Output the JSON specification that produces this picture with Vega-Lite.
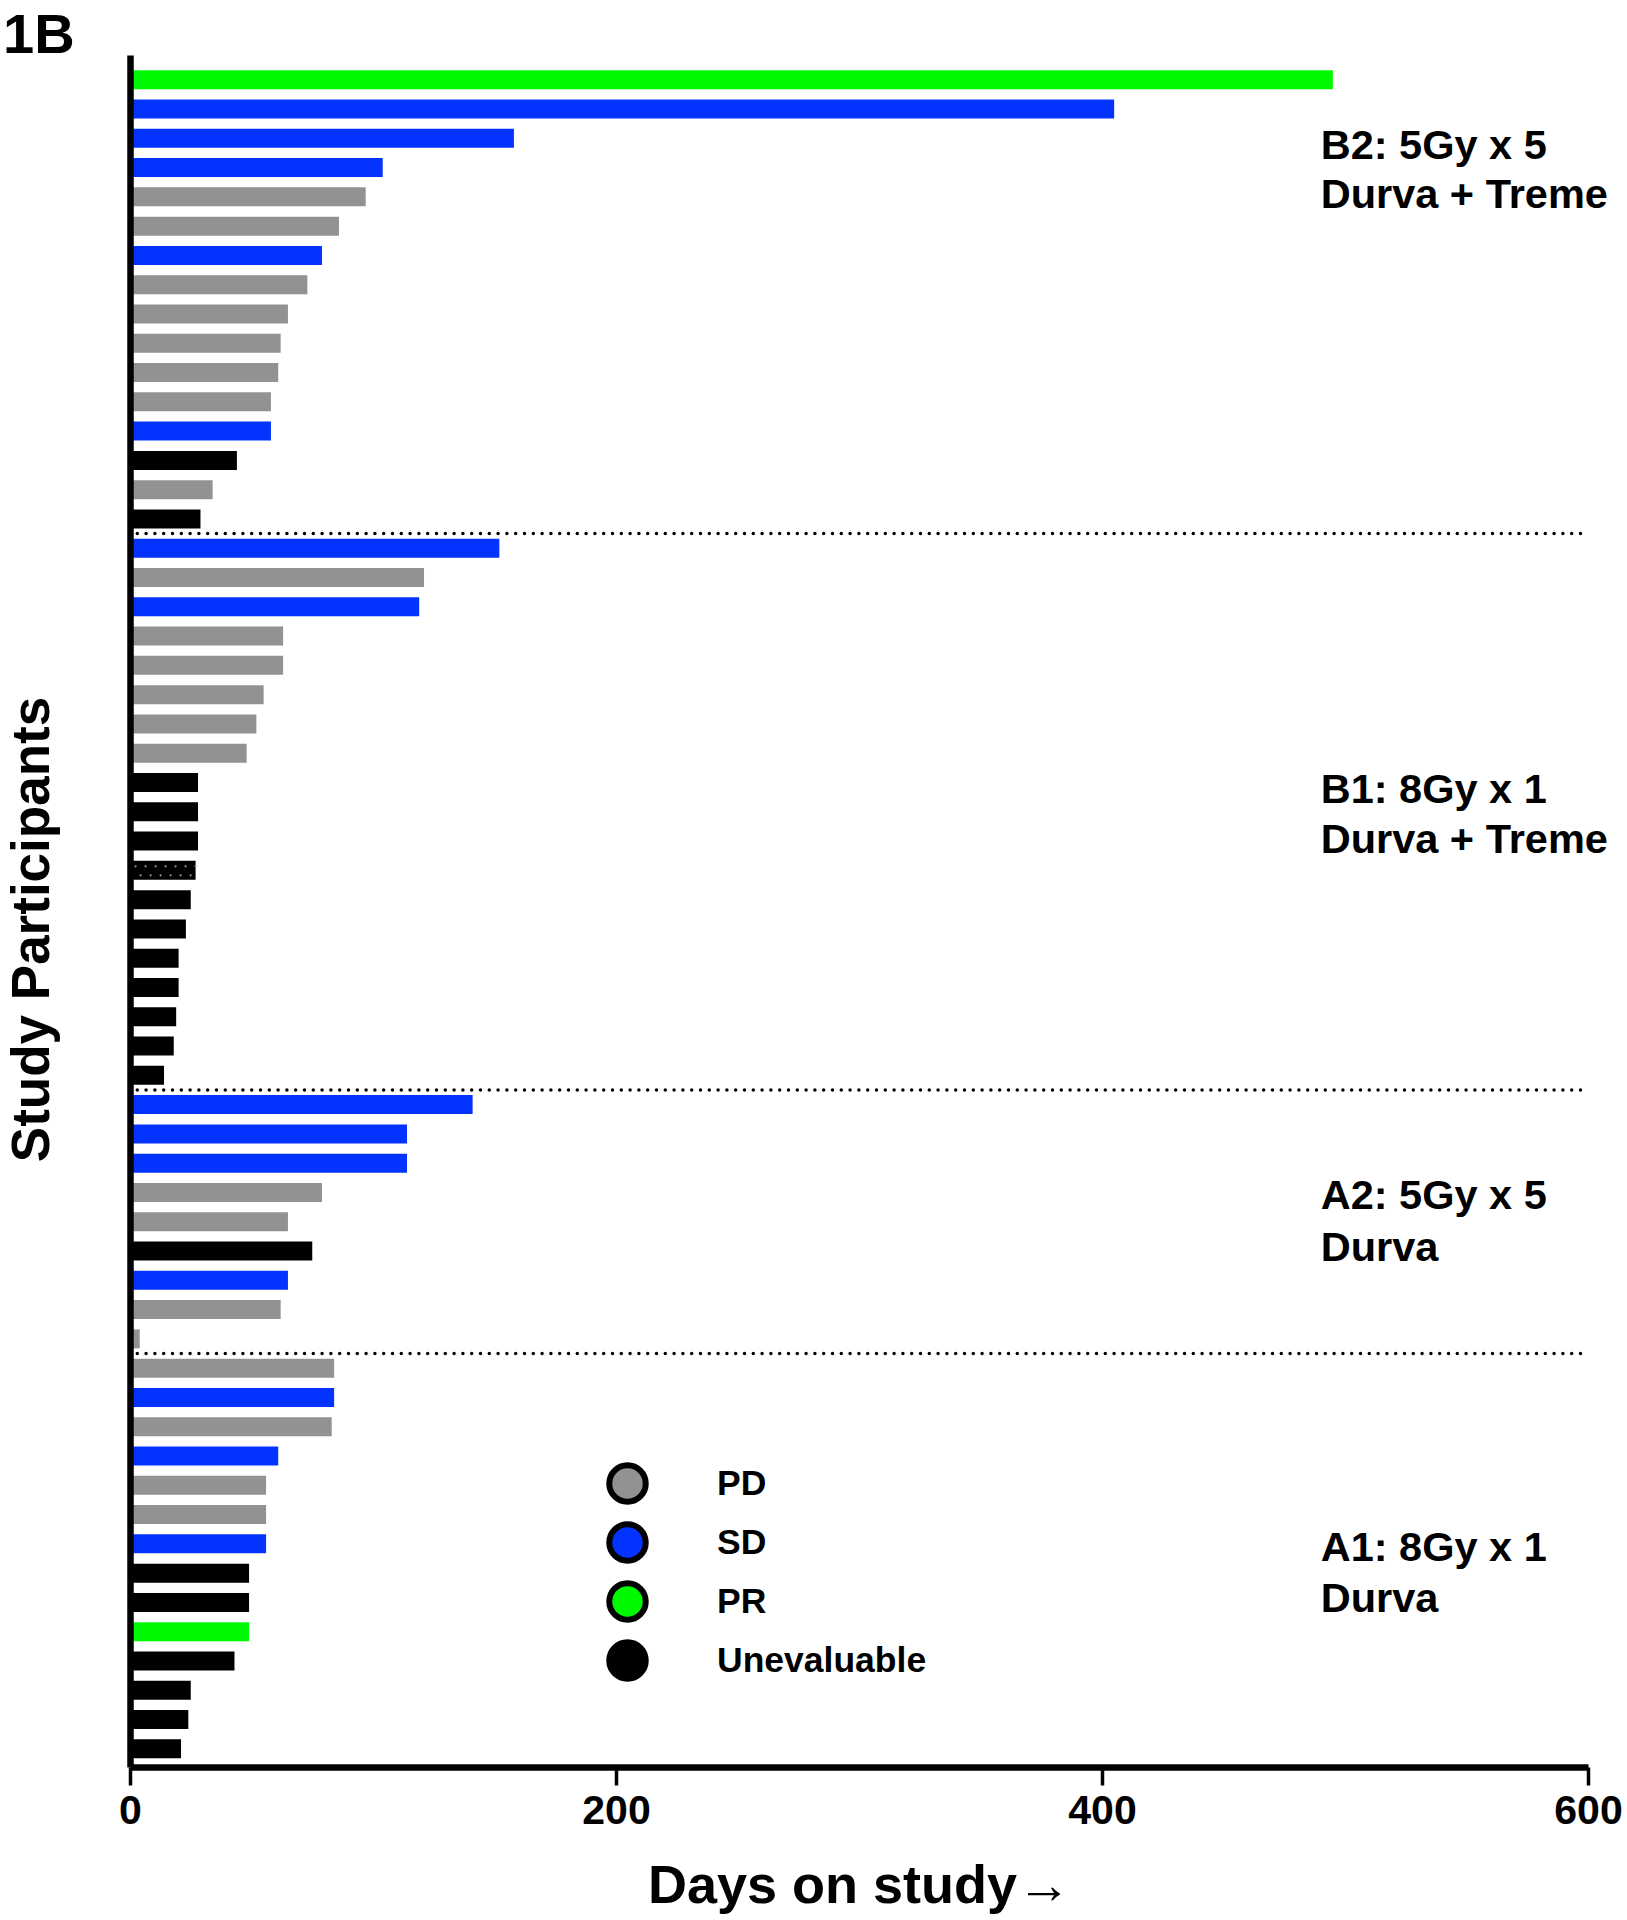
{
  "$schema": "https://vega.github.io/schema/vega-lite/v6.json",
  "width": 1458,
  "height": 1712,
  "autosize": {"type": "none"},
  "padding": {"left": 130, "top": 55, "right": 39, "bottom": 153},
  "background": "white",
  "config": {"view": {"stroke": null}, "font": "Liberation Sans"},
  "title": {"text": "1B", "fontSize": 56, "fontWeight": "bold", "color": "black", "anchor": "start", "frame": "group", "dx": -127, "offset": -54, "baseline": "alphabetic"},
  "datasets": {
    "bars": [
      {"idx": 1, "days": 495, "status": "PR", "group": "B2"},
      {"idx": 2, "days": 405, "status": "SD", "group": "B2"},
      {"idx": 3, "days": 158, "status": "SD", "group": "B2"},
      {"idx": 4, "days": 104, "status": "SD", "group": "B2"},
      {"idx": 5, "days": 97, "status": "PD", "group": "B2"},
      {"idx": 6, "days": 86, "status": "PD", "group": "B2"},
      {"idx": 7, "days": 79, "status": "SD", "group": "B2"},
      {"idx": 8, "days": 73, "status": "PD", "group": "B2"},
      {"idx": 9, "days": 65, "status": "PD", "group": "B2"},
      {"idx": 10, "days": 62, "status": "PD", "group": "B2"},
      {"idx": 11, "days": 61, "status": "PD", "group": "B2"},
      {"idx": 12, "days": 58, "status": "PD", "group": "B2"},
      {"idx": 13, "days": 58, "status": "SD", "group": "B2"},
      {"idx": 14, "days": 44, "status": "Unevaluable", "group": "B2"},
      {"idx": 15, "days": 34, "status": "PD", "group": "B2"},
      {"idx": 16, "days": 29, "status": "Unevaluable", "group": "B2"},
      {"idx": 17, "days": 152, "status": "SD", "group": "B1"},
      {"idx": 18, "days": 121, "status": "PD", "group": "B1"},
      {"idx": 19, "days": 119, "status": "SD", "group": "B1"},
      {"idx": 20, "days": 63, "status": "PD", "group": "B1"},
      {"idx": 21, "days": 63, "status": "PD", "group": "B1"},
      {"idx": 22, "days": 55, "status": "PD", "group": "B1"},
      {"idx": 23, "days": 52, "status": "PD", "group": "B1"},
      {"idx": 24, "days": 48, "status": "PD", "group": "B1"},
      {"idx": 25, "days": 28, "status": "Unevaluable", "group": "B1"},
      {"idx": 26, "days": 28, "status": "Unevaluable", "group": "B1"},
      {"idx": 27, "days": 28, "status": "Unevaluable", "group": "B1"},
      {"idx": 28, "days": 27, "status": "Unevaluable", "group": "B1"},
      {"idx": 29, "days": 25, "status": "Unevaluable", "group": "B1"},
      {"idx": 30, "days": 23, "status": "Unevaluable", "group": "B1"},
      {"idx": 31, "days": 20, "status": "Unevaluable", "group": "B1"},
      {"idx": 32, "days": 20, "status": "Unevaluable", "group": "B1"},
      {"idx": 33, "days": 19, "status": "Unevaluable", "group": "B1"},
      {"idx": 34, "days": 18, "status": "Unevaluable", "group": "B1"},
      {"idx": 35, "days": 14, "status": "Unevaluable", "group": "B1"},
      {"idx": 36, "days": 141, "status": "SD", "group": "A2"},
      {"idx": 37, "days": 114, "status": "SD", "group": "A2"},
      {"idx": 38, "days": 114, "status": "SD", "group": "A2"},
      {"idx": 39, "days": 79, "status": "PD", "group": "A2"},
      {"idx": 40, "days": 65, "status": "PD", "group": "A2"},
      {"idx": 41, "days": 75, "status": "Unevaluable", "group": "A2"},
      {"idx": 42, "days": 65, "status": "SD", "group": "A2"},
      {"idx": 43, "days": 62, "status": "PD", "group": "A2"},
      {"idx": 44, "days": 4, "status": "PD", "group": "A2"},
      {"idx": 45, "days": 84, "status": "PD", "group": "A1"},
      {"idx": 46, "days": 84, "status": "SD", "group": "A1"},
      {"idx": 47, "days": 83, "status": "PD", "group": "A1"},
      {"idx": 48, "days": 61, "status": "SD", "group": "A1"},
      {"idx": 49, "days": 56, "status": "PD", "group": "A1"},
      {"idx": 50, "days": 56, "status": "PD", "group": "A1"},
      {"idx": 51, "days": 56, "status": "SD", "group": "A1"},
      {"idx": 52, "days": 49, "status": "Unevaluable", "group": "A1"},
      {"idx": 53, "days": 49, "status": "Unevaluable", "group": "A1"},
      {"idx": 54, "days": 49, "status": "PR", "group": "A1"},
      {"idx": 55, "days": 43, "status": "Unevaluable", "group": "A1"},
      {"idx": 56, "days": 25, "status": "Unevaluable", "group": "A1"},
      {"idx": 57, "days": 24, "status": "Unevaluable", "group": "A1"},
      {"idx": 58, "days": 21, "status": "Unevaluable", "group": "A1"}
    ],
    "dividers": [{"idx": 16.5}, {"idx": 35.5}, {"idx": 44.5}],
    "labels": [
      {"line": "B2: 5Gy x 5", "idx": 3.7},
      {"line": "Durva + Treme", "idx": 5.37},
      {"line": "B1: 8Gy x 1", "idx": 25.71},
      {"line": "Durva + Treme", "idx": 27.4},
      {"line": "A2: 5Gy x 5", "idx": 39.57},
      {"line": "Durva", "idx": 41.35},
      {"line": "A1: 8Gy x 1", "idx": 51.59},
      {"line": "Durva", "idx": 53.31}
    ]
  },
  "layer": [
    {
      "data": {"name": "bars"},
      "mark": {"type": "bar", "orient": "horizontal", "size": 19},
      "encoding": {
        "y": {
          "field": "idx", "type": "quantitative",
          "scale": {"domain": [0.156, 58.62], "reverse": true, "nice": false, "zero": false, "padding": 0},
          "axis": {"domain": true, "domainColor": "black", "domainWidth": 6.5, "ticks": false, "labels": false, "grid": false, "zindex": 1,
            "title": "Study Participants", "titleFontSize": 53, "titleFontWeight": "bold", "titleColor": "black", "titleAngle": -90,
            "titleX": -82, "titleY": 874, "titleBaseline": "alphabetic", "titleAlign": "center"}
        },
        "x": {
          "field": "days", "type": "quantitative", "stack": null,
          "scale": {"domain": [0, 600], "nice": false, "padding": 0},
          "axis": {"values": [0, 200, 400, 600], "grid": false, "zindex": 1, "domainColor": "black", "domainWidth": 6.5,
            "tickColor": "black", "tickWidth": 3.5, "tickSize": 18,
            "labelFontSize": 41, "labelFontWeight": "bold", "labelColor": "black", "labelBaseline": "alphabetic", "labelPadding": 38, "labelFlush": false,
            "title": "Days on study→", "titleFontSize": 54, "titleFontWeight": "bold", "titleColor": "black",
            "titleX": 729, "titleY": 135, "titleBaseline": "alphabetic", "titleAlign": "center"}
        },
        "color": {
          "field": "status", "type": "nominal",
          "scale": {"domain": ["PD", "SD", "PR", "Unevaluable"], "range": ["#929292", "#0433ff", "#00f900", "#000000"]},
          "legend": {"title": null, "orient": "none", "legendX": 476, "legendY": 1407, "symbolType": "circle", "symbolSize": 1330,
            "symbolStrokeColor": "black", "symbolStrokeWidth": 6, "symbolOpacity": 1,
            "labelFontSize": 35.5, "labelFontWeight": "bold", "labelColor": "black", "labelOffset": 68, "rowPadding": -2, "labelLimit": 400}
        }
      }
    },
    {
      "data": {"name": "bars"},
      "transform": [{"filter": "datum.idx == 28"}],
      "mark": {"type": "rule", "color": "#9a9a9a", "strokeWidth": 2.2, "strokeDash": [0, 10], "strokeCap": "round", "yOffset": -4},
      "encoding": {"y": {"field": "idx", "type": "quantitative"}, "x": {"field": "days", "type": "quantitative"}, "x2": {"datum": 1}}
    },
    {
      "data": {"name": "bars"},
      "transform": [{"filter": "datum.idx == 28"}],
      "mark": {"type": "rule", "color": "#9a9a9a", "strokeWidth": 2.2, "strokeDash": [0, 10], "strokeDashOffset": 5, "strokeCap": "round", "yOffset": 5},
      "encoding": {"y": {"field": "idx", "type": "quantitative"}, "x": {"field": "days", "type": "quantitative"}, "x2": {"datum": 1}}
    },
    {
      "data": {"name": "dividers"},
      "mark": {"type": "rule", "color": "black", "strokeWidth": 3.5, "strokeDash": [0, 8.8], "strokeCap": "round"},
      "encoding": {"y": {"field": "idx", "type": "quantitative"}, "x": {"datum": 3, "type": "quantitative"}, "x2": {"datum": 598}}
    },
    {
      "data": {"name": "labels"},
      "mark": {"type": "text", "align": "left", "baseline": "alphabetic", "fontSize": 41.5, "fontWeight": "bold", "color": "black"},
      "encoding": {"y": {"field": "idx", "type": "quantitative"}, "x": {"datum": 490, "type": "quantitative"}, "text": {"field": "line"}}
    }
  ]
}
